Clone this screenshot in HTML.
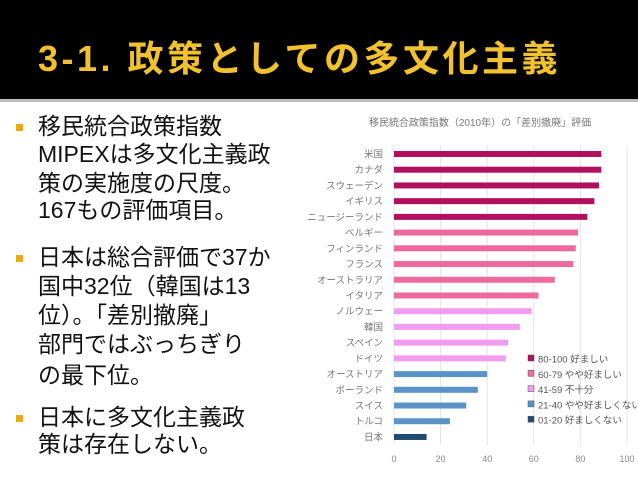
<!DOCTYPE html>
<html><head><meta charset="utf-8"><style>
body{margin:0;width:638px;height:479px;overflow:hidden;background:#fff;font-family:"Liberation Sans","Noto Sans CJK JP",sans-serif}
#hdr{position:absolute;left:0;top:0;width:638px;height:99px;background:#000}
#hline{position:absolute;left:0;top:99px;width:638px;height:3px;background:#bbb}
#title{position:absolute;left:38px;top:30px;color:#f2c12e;font-size:36px;font-weight:bold;white-space:nowrap;letter-spacing:3.5px}
.ln{position:absolute;left:38px;font-size:23px;color:#111;white-space:nowrap;line-height:1}
.bul{position:absolute;left:16px;width:7px;height:7px;background:#e8a817}
svg{position:absolute;left:0;top:0}
</style></head><body>
<div id="hdr"></div>
<div id="hline"></div>
<div id="title">3-1. 政策としての多文化主義</div>
<div class="bul" style="top:124px"></div>
<div class="ln" style="top:115px">移民統合政策指数</div>
<div class="ln" style="top:143px">MIPEXは多文化主義政</div>
<div class="ln" style="top:172px">策の実施度の尺度。</div>
<div class="ln" style="top:199px">167もの評価項目。</div>
<div class="bul" style="top:255px"></div>
<div class="ln" style="top:246px">日本は総合評価で37か</div>
<div class="ln" style="top:275px">国中32位（韓国は13</div>
<div class="ln" style="top:304px">位）。「差別撤廃」</div>
<div class="ln" style="top:333px">部門ではぶっちぎり</div>
<div class="ln" style="top:364px">の最下位。</div>
<div class="bul" style="top:415px"></div>
<div class="ln" style="top:406px">日本に多文化主義政</div>
<div class="ln" style="top:433px">策は存在しない。</div>
<svg id="chart" width="638" height="479"></svg>
<script>
const countries=["米国","カナダ","スウェーデン","イギリス","ニュージーランド","ベルギー","フィンランド","フランス","オーストラリア","イタリア","ノルウェー","韓国","スペイン","ドイツ","オーストリア","ポーランド","スイス","トルコ","日本"];
const scores=[89,89,88,86,83,79,78,77,69,62,59,54,49,48,40,36,31,24,14];
const ticks=[0,20,40,60,80,100];
const legendLabels=["80-100 好ましい","60-79 やや好ましい","41-59 不十分","21-40 やや好ましくない","01-20 好ましくない"];
const legendColors=["#b0105e","#ee6a9a","#f29cf0","#5b93c9","#1f4a72"];
const ns="http://www.w3.org/2000/svg";
const svg=document.getElementById("chart");
const x=v=>394+v*2.33;
const y=i=>154+i*15.72;
function colorFor(v){return v>=80?legendColors[0]:v>=60?legendColors[1]:v>=41?legendColors[2]:v>=21?legendColors[3]:legendColors[4];}
function mk(t,a,txt){const e=document.createElementNS(ns,t);for(const k in a)e.setAttribute(k,a[k]);if(txt!==undefined)e.textContent=txt;svg.appendChild(e);return e;}
let t=mk("text",{x:480,y:126,"font-size":"10","fill":"#777","text-anchor":"middle","font-family":"Liberation Sans,Noto Sans CJK JP,sans-serif"},"移民統合政策指数（2010年）の「差別撤廃」評価");


ticks.forEach(v=>{
 const g=mk("line",{x1:x(v),x2:x(v),y1:145,y2:445,stroke:"#e4e4e4","stroke-width":1});
 
 
 const l=mk("text",{x:x(v),y:462,"font-size":"9","fill":"#888","text-anchor":"middle"},String(v));
 
 
});
countries.forEach((c,i)=>{
 const l=mk("text",{x:383,y:y(i)+3.5,"font-size":"9.5","fill":"#777","text-anchor":"end","font-family":"Liberation Sans,Noto Sans CJK JP,sans-serif"},c);
 
 
 const b=mk("rect",{x:x(0),y:y(i)-3,width:x(scores[i])-x(0),height:6,fill:colorFor(scores[i])});
 
 
});
legendLabels.forEach((s,i)=>{
 const ly=359+i*15.3;
 const r=mk("rect",{x:528,y:ly-4,width:6,height:6,fill:legendColors[i],stroke:"#555","stroke-width":0.5});
 
 
 const l=mk("text",{x:538,y:ly+3.5,"font-size":"9.5","fill":"#555","font-family":"Liberation Sans,Noto Sans CJK JP,sans-serif"},s);
 
 
});
</script>
</body></html>
